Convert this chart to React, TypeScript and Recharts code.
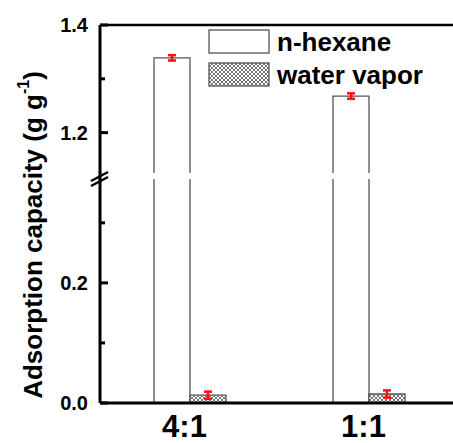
import { Bar, BarChart, ErrorBar, XAxis, YAxis } from "recharts";

const ratios = ["4:1", "1:1"];
const hexane = [1.339, 1.268];
const hexaneErr = [0.005, 0.005];
const water = [0.013, 0.015];
const waterErr = [0.006, 0.006];

const upperTicks = [1.2, 1.3, 1.4];
const lowerTicks = [0, 0.1, 0.2, 0.3];
const labelledTicks = [0, 0.2, 1.2, 1.4];

const seriesNames = ["n-hexane", "water vapor"];

const data = ratios.map((r, i) => ({
  ratio: r,
  hexane: hexane[i],
  hexaneErr: hexaneErr[i],
  water: water[i],
  waterErr: waterErr[i],
}));

const font = '"Liberation Sans", Arial, sans-serif';
const CHART_W = 458;

const YTick = (props: any) => {
  const { x, y, payload } = props;
  const major = labelledTicks.some((t) => Math.abs(t - payload.value) < 1e-6);
  return (
    <g>
      <line x1={x} x2={x + (major ? 8 : 5)} y1={y} y2={y} stroke="#000" strokeWidth={3} />
      {major && (
        <text
          x={x - 12}
          y={y}
          textAnchor="end"
          dominantBaseline="central"
          fontSize={20}
          fontWeight="bold"
          fontFamily={font}
          fill="#000"
        >
          {payload.value.toFixed(1)}
        </text>
      )}
    </g>
  );
};

const XTick = (props: any) => {
  const { x, y, payload } = props;
  return (
    <text
      x={x - 5}
      y={y + 34}
      textAnchor="middle"
      fontSize={31}
      fontWeight="bold"
      fontFamily={font}
      fill="#000"
    >
      {payload.value}
    </text>
  );
};

// bar with no bottom edge, used above the axis break
const OpenBar = (props: any) => {
  const { x, y, width, height } = props;
  return (
    <g>
      <rect x={x} y={y} width={width} height={height} fill="#fff" />
      <path
        d={`M${x},${y + height} L${x},${y} L${x + width},${y} L${x + width},${y + height}`}
        fill="none"
        stroke="#555"
        strokeWidth={1.3}
      />
    </g>
  );
};

function App() {
  return (
    <div
      style={{
        position: "absolute",
        left: 0,
        top: 0,
        width: 453,
        height: 443,
        overflow: "hidden",
        background: "#fff",
      }}
    >
      <div style={{ position: "absolute", left: 0, top: 0 }}>
        <BarChart
          width={CHART_W}
          height={173}
          data={data}
          margin={{ top: 0, right: 0, bottom: 0, left: 0 }}
          barSize={36}
          barGap={0}
        >
          <XAxis
            dataKey="ratio"
            orientation="top"
            height={25}
            tick={false}
            tickLine={false}
            axisLine={{ stroke: "#000", strokeWidth: 2.5 }}
          />
          <YAxis
            type="number"
            domain={[1.125, 1.4]}
            allowDataOverflow
            ticks={upperTicks}
            interval={0}
            width={100}
            tickLine={false}
            tickSize={0}
            tickMargin={0}
            tick={<YTick />}
            axisLine={{ stroke: "#000", strokeWidth: 3 }}
          />
          <Bar dataKey="hexane" shape={<OpenBar />} isAnimationActive={false}>
            <ErrorBar dataKey="hexaneErr" width={4} strokeWidth={2.5} stroke="#ff1010" direction="y" />
          </Bar>
          <Bar dataKey="water" fill="none" stroke="none" isAnimationActive={false} />
        </BarChart>
      </div>
      <div style={{ position: "absolute", left: 0, top: 150 }}>
        <BarChart
          width={CHART_W}
          height={293}
          data={data}
          margin={{ top: 29, right: 0, bottom: 0, left: 0 }}
          barSize={36}
          barGap={0}
        >
          <defs>
            <pattern id="hatch" patternUnits="userSpaceOnUse" width="4" height="4">
              <rect width="4" height="4" fill="#fff" />
              <path d="M0,0 L4,4 M4,0 L0,4" stroke="#666" strokeWidth={0.9} />
            </pattern>
          </defs>
          <XAxis
            dataKey="ratio"
            height={40}
            tickLine={false}
            tickSize={0}
            tickMargin={0}
            tick={<XTick />}
            axisLine={{ stroke: "#000", strokeWidth: 3 }}
          />
          <YAxis
            type="number"
            domain={[0, 0.373]}
            allowDataOverflow
            ticks={lowerTicks}
            interval={0}
            width={100}
            tickLine={false}
            tickSize={0}
            tickMargin={0}
            tick={<YTick />}
            axisLine={{ stroke: "#000", strokeWidth: 3 }}
          />
          <Bar dataKey="hexane" fill="#fff" stroke="#555" strokeWidth={1.3} isAnimationActive={false} />
          <Bar dataKey="water" fill="url(#hatch)" stroke="#555" strokeWidth={1.3} isAnimationActive={false}>
            <ErrorBar dataKey="waterErr" width={4} strokeWidth={2.5} stroke="#ff1010" direction="y" />
          </Bar>
        </BarChart>
      </div>
      <svg
        width={453}
        height={443}
        style={{ position: "absolute", left: 0, top: 0, pointerEvents: "none" }}
      >
        <text
          transform="translate(33,235) rotate(-90)"
          textAnchor="middle"
          dominantBaseline="central"
          fontSize={26}
          fontWeight="bold"
          fontFamily={font}
          fill="#000"
        >
          Adsorption capacity (g g
          <tspan dy={-10} fontSize={16}>
            -1
          </tspan>
          <tspan dy={10}>)</tspan>
        </text>
        {/* axis break */}
        <line x1={100} x2={100} y1={172} y2={180} stroke="#000" strokeWidth={3} />
        <line x1={91} y1={181} x2={108} y2={172} stroke="#000" strokeWidth={2.5} />
        <line x1={91} y1={186} x2={108} y2={177} stroke="#000" strokeWidth={2.5} />
        {/* legend */}
        {seriesNames.map((name, i) => (
          <g key={name}>
            <rect
              x={209}
              y={30 + i * 33}
              width={60}
              height={23}
              fill={i === 0 ? "#fff" : "url(#hatch)"}
              stroke="#555"
              strokeWidth={1.3}
            />
            <text
              x={277}
              y={42 + i * 33}
              dominantBaseline="central"
              fontSize={26}
              fontWeight="bold"
              fontFamily={font}
              fill="#000"
            >
              {name}
            </text>
          </g>
        ))}
      </svg>
    </div>
  );
}

export default App;
